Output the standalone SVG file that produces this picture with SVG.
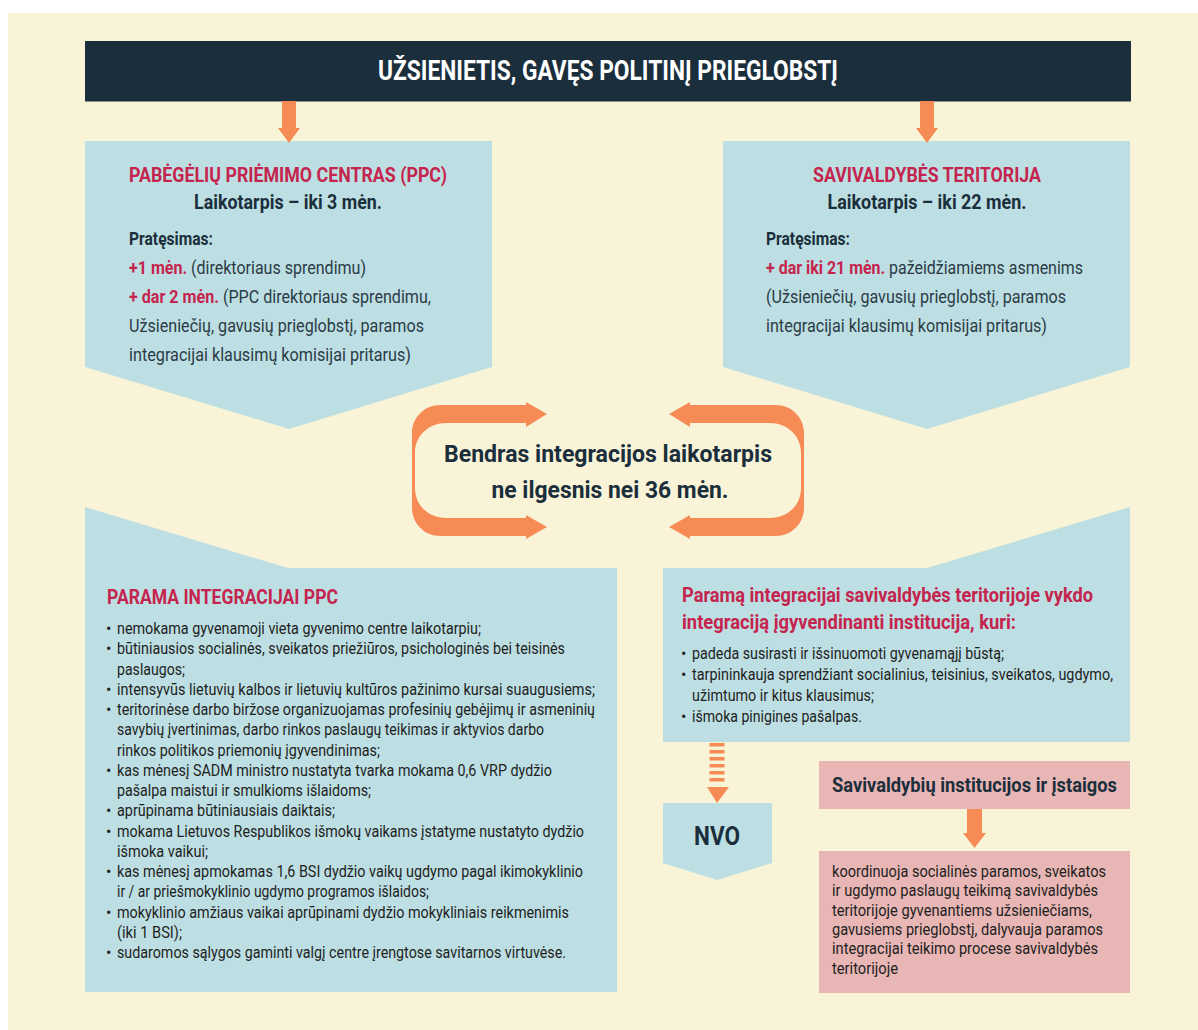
<svg xmlns="http://www.w3.org/2000/svg" width="1198" height="1030" viewBox="0 0 1198 1030">
<style>
text{font-family:Roboto,"Liberation Sans","DejaVu Sans",sans-serif}
.blue{fill:#bddfe3}
.pink{fill:#e8b6b4}
.org{fill:#f68b56}
.hdr{font-size:27px;font-weight:700;fill:#ffffff}
.ttl{font-size:20.5px;font-weight:700;fill:#c4244d}
.sub{font-size:20px;font-weight:700;fill:#1b2e3b}
.pb{font-size:17.5px;font-weight:700;fill:#1b2e3b}
.pr{font-size:17.5px;font-weight:400;fill:#2b3b46}
.red{font-weight:700;fill:#c4244d}
.ctr{font-size:24.5px;font-weight:700;fill:#1b2e3b}
.li{font-size:16px;fill:#1e1e1e}
.nvo{font-size:26px;font-weight:700;fill:#1b2e3b}
.ph{font-size:20px;font-weight:700;fill:#1b2e3b}
</style>
<rect x="8" y="13" width="1190" height="1017" fill="#f9f4d8"/>

<g id="header">
<rect x="85" y="41" width="1046" height="60.5" fill="#1a2e3c"/>
<text class="hdr" x="608" y="80" text-anchor="middle" textLength="460" lengthAdjust="spacingAndGlyphs">UŽSIENIETIS, GAVĘS POLITINĮ PRIEGLOBSTĮ</text>
</g>

<g id="ppc">
<polygon class="blue" points="85,141 492,141 492,367 289,429 85,367"/>
<text class="ttl" x="288" y="182" text-anchor="middle" textLength="318" lengthAdjust="spacingAndGlyphs">PABĖGĖLIŲ PRIĖMIMO CENTRAS (PPC)</text>
<text class="sub" x="288" y="209" text-anchor="middle" textLength="188" lengthAdjust="spacingAndGlyphs">Laikotarpis – iki 3 mėn.</text>
<text class="pb" x="129" y="245" textLength="84" lengthAdjust="spacingAndGlyphs">Pratęsimas:</text>
<text class="pr" x="129" y="274" textLength="237" lengthAdjust="spacingAndGlyphs"><tspan class="red">+1 mėn.</tspan> (direktoriaus sprendimu)</text>
<text class="pr" x="129" y="303" textLength="302" lengthAdjust="spacingAndGlyphs"><tspan class="red">+ dar 2 mėn.</tspan> (PPC direktoriaus sprendimu,</text>
<text class="pr" x="129" y="332" textLength="295" lengthAdjust="spacingAndGlyphs">Užsieniečių, gavusių prieglobstį, paramos</text>
<text class="pr" x="129" y="361" textLength="282" lengthAdjust="spacingAndGlyphs">integracijai klausimų komisijai pritarus)</text>
</g>

<g id="savivaldybe">
<polygon class="blue" points="723,141 1130,141 1130,367 927,429 723,367"/>
<text class="ttl" x="927" y="182" text-anchor="middle" textLength="228" lengthAdjust="spacingAndGlyphs">SAVIVALDYBĖS TERITORIJA</text>
<text class="sub" x="927" y="209" text-anchor="middle" textLength="199" lengthAdjust="spacingAndGlyphs">Laikotarpis – iki 22 mėn.</text>
<text class="pb" x="766" y="245" textLength="84" lengthAdjust="spacingAndGlyphs">Pratęsimas:</text>
<text class="pr" x="766" y="274" textLength="317" lengthAdjust="spacingAndGlyphs"><tspan class="red">+ dar iki 21 mėn.</tspan> pažeidžiamiems asmenims</text>
<text class="pr" x="766" y="303" textLength="300" lengthAdjust="spacingAndGlyphs">(Užsieniečių, gavusių prieglobstį, paramos</text>
<text class="pr" x="766" y="332" textLength="281" lengthAdjust="spacingAndGlyphs">integracijai klausimų komisijai pritarus)</text>
</g>

<g id="bendras">
<text class="ctr" x="608" y="462" text-anchor="middle" textLength="328" lengthAdjust="spacingAndGlyphs">Bendras integracijos laikotarpis</text>
<text class="ctr" x="610" y="498" text-anchor="middle" textLength="237" lengthAdjust="spacingAndGlyphs">ne ilgesnis nei 36 mėn.</text>
</g>

<g id="parama-ppc">
<polygon class="blue" points="85,507 288,568 617,568 617,992 85,992"/>
<text class="ttl" x="107" y="604" textLength="231" lengthAdjust="spacingAndGlyphs">PARAMA INTEGRACIJAI PPC</text>
<g class="li">
<text x="106" y="634">•</text>
<text x="117" y="634" textLength="364" lengthAdjust="spacingAndGlyphs">nemokama gyvenamoji vieta gyvenimo centre laikotarpiu;</text>
<text x="106" y="654.3">•</text>
<text x="117" y="654.3" textLength="448" lengthAdjust="spacingAndGlyphs">būtiniausios socialinės, sveikatos priežiūros, psichologinės bei teisinės</text>
<text x="117" y="674.5" textLength="68" lengthAdjust="spacingAndGlyphs">paslaugos;</text>
<text x="106" y="694.8">•</text>
<text x="117" y="694.8" textLength="478" lengthAdjust="spacingAndGlyphs">intensyvūs lietuvių kalbos ir lietuvių kultūros pažinimo kursai suaugusiems;</text>
<text x="106" y="715">•</text>
<text x="117" y="715" textLength="478" lengthAdjust="spacingAndGlyphs">teritorinėse darbo biržose organizuojamas profesinių gebėjimų ir asmeninių</text>
<text x="117" y="735.3" textLength="427" lengthAdjust="spacingAndGlyphs">savybių įvertinimas, darbo rinkos paslaugų teikimas ir aktyvios darbo</text>
<text x="117" y="755.5" textLength="263" lengthAdjust="spacingAndGlyphs">rinkos politikos priemonių įgyvendinimas;</text>
<text x="106" y="775.8">•</text>
<text x="117" y="775.8" textLength="435" lengthAdjust="spacingAndGlyphs">kas mėnesį SADM ministro nustatyta tvarka mokama 0,6 VRP dydžio</text>
<text x="117" y="796" textLength="254" lengthAdjust="spacingAndGlyphs">pašalpa maistui ir smulkioms išlaidoms;</text>
<text x="106" y="816.3">•</text>
<text x="117" y="816.3" textLength="218" lengthAdjust="spacingAndGlyphs">aprūpinama būtiniausiais daiktais;</text>
<text x="106" y="836.5">•</text>
<text x="117" y="836.5" textLength="467" lengthAdjust="spacingAndGlyphs">mokama Lietuvos Respublikos išmokų vaikams įstatyme nustatyto dydžio</text>
<text x="117" y="856.8" textLength="91" lengthAdjust="spacingAndGlyphs">išmoka vaikui;</text>
<text x="106" y="877">•</text>
<text x="117" y="877" textLength="466" lengthAdjust="spacingAndGlyphs">kas mėnesį apmokamas 1,6 BSI dydžio vaikų ugdymo pagal ikimokyklinio</text>
<text x="117" y="897.3" textLength="312" lengthAdjust="spacingAndGlyphs">ir / ar priešmokyklinio ugdymo programos išlaidos;</text>
<text x="106" y="917.5">•</text>
<text x="117" y="917.5" textLength="452" lengthAdjust="spacingAndGlyphs">mokyklinio amžiaus vaikai aprūpinami dydžio mokykliniais reikmenimis</text>
<text x="117" y="937.8" textLength="65" lengthAdjust="spacingAndGlyphs">(iki 1 BSI);</text>
<text x="106" y="958">•</text>
<text x="117" y="958" textLength="449" lengthAdjust="spacingAndGlyphs">sudaromos sąlygos gaminti valgį centre įrengtose savitarnos virtuvėse.</text>
</g>
</g>

<g id="parama-savivaldybe">
<polygon class="blue" points="663,568 927,568 1130,507 1130,742 663,742"/>
<text class="ttl" x="682" y="602" textLength="411" lengthAdjust="spacingAndGlyphs">Paramą integracijai savivaldybės teritorijoje vykdo</text>
<text class="ttl" x="682" y="629" textLength="334" lengthAdjust="spacingAndGlyphs">integraciją įgyvendinanti institucija, kuri:</text>
<g class="li">
<text x="681" y="659">•</text>
<text x="692" y="659" textLength="312" lengthAdjust="spacingAndGlyphs">padeda susirasti ir išsinuomoti gyvenamąjį būstą;</text>
<text x="681" y="680">•</text>
<text x="692" y="680" textLength="421" lengthAdjust="spacingAndGlyphs">tarpininkauja sprendžiant socialinius, teisinius, sveikatos, ugdymo,</text>
<text x="692" y="700.5" textLength="182" lengthAdjust="spacingAndGlyphs">užimtumo ir kitus klausimus;</text>
<text x="681" y="721.5">•</text>
<text x="692" y="721.5" textLength="170" lengthAdjust="spacingAndGlyphs">išmoka pinigines pašalpas.</text>
</g>
</g>

<g id="nvo">
<polygon class="blue" points="663,803 772,803 772,863 717,880 663,863"/>
<text class="nvo" x="717" y="845" text-anchor="middle" textLength="46" lengthAdjust="spacingAndGlyphs">NVO</text>
</g>

<g id="savivaldybiu-institucijos">
<rect class="pink" x="819" y="761" width="311" height="48"/>
<text class="ph" x="832" y="792" textLength="285" lengthAdjust="spacingAndGlyphs">Savivaldybių institucijos ir įstaigos</text>
</g>

<g id="koordinuoja">
<rect class="pink" x="819" y="851" width="311" height="142"/>
<g class="li">
<text x="832" y="877" textLength="274" lengthAdjust="spacingAndGlyphs">koordinuoja socialinės paramos, sveikatos</text>
<text x="832" y="896.3" textLength="266" lengthAdjust="spacingAndGlyphs">ir ugdymo paslaugų teikimą savivaldybės</text>
<text x="832" y="915.6" textLength="260" lengthAdjust="spacingAndGlyphs">teritorijoje gyvenantiems užsieniečiams,</text>
<text x="832" y="934.9" textLength="271" lengthAdjust="spacingAndGlyphs">gavusiems prieglobstį, dalyvauja paramos</text>
<text x="832" y="954.2" textLength="266" lengthAdjust="spacingAndGlyphs">integracijai teikimo procese savivaldybės</text>
<text x="832" y="973.5" textLength="66" lengthAdjust="spacingAndGlyphs">teritorijoje</text>
</g>
</g>

<g id="connectors">
<rect class="org" x="282" y="101" width="14" height="28"/>
<polygon class="org" points="278,128 300,128 289,143"/>
<rect class="org" x="920" y="101" width="14" height="28"/>
<polygon class="org" points="916,128 938,128 927,143"/>
<path class="org" d="M528,405 L440,405 C424.5,405 412,417.5 412,433 L412,508 C412,523.5 424.5,536 440,536 L528,536 L528,518 L446,518 C429.4,518 415,506 415,488 L415,453 C415,435 429.4,423 446,423 L528,423 Z"/>
<polygon class="org" points="526,402 547,414 526,427"/>
<polygon class="org" points="526,515 547,527 526,539"/>
<path class="org" d="M688,405 L776,405 C791.5,405 804,417.5 804,433 L804,508 C804,523.5 791.5,536 776,536 L688,536 L688,518 L770,518 C786.6,518 801,506 801,488 L801,453 C801,435 786.6,423 770,423 L688,423 Z"/>
<polygon class="org" points="690,402 669,414 690,427"/>
<polygon class="org" points="690,515 669,527 690,539"/>
<line x1="717" y1="743" x2="717" y2="785" stroke="#f68b56" stroke-width="15" stroke-dasharray="3.5 3.5"/>
<polygon class="org" points="707,787 729,787 717,803"/>
<rect class="org" x="967" y="809" width="15" height="25"/>
<polygon class="org" points="963,833 986,833 974.5,848"/>
</g>
</svg>
